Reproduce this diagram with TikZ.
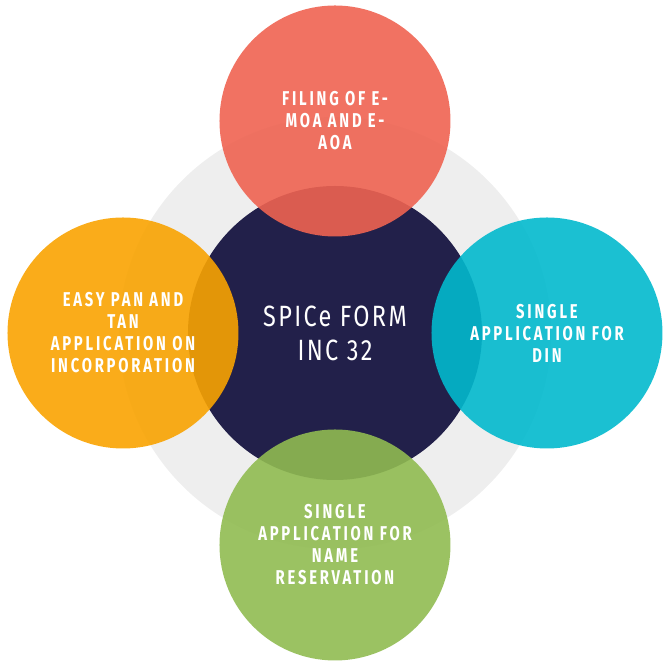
\documentclass[tikz,border=0pt]{standalone}
\usepackage{fontspec}
\newfontfamily\labelfont{Fira Sans}[FakeStretch=0.8,LetterSpace=8]
\newfontfamily\petalfont{Fira Sans}[FakeStretch=0.74,LetterSpace=14]
\usetikzlibrary{math}
\usetikzlibrary{positioning}

\definecolor{ringgray}{HTML}{EEEEEE}
\definecolor{corenavy}{HTML}{22204A}
\definecolor{petalred}{RGB}{239,99,81}
\definecolor{petalcyan}{RGB}{2,185,205}
\definecolor{petalorange}{RGB}{249,163,1}
\definecolor{petalgreen}{RGB}{144,187,81}

\begin{document}
\begin{tikzpicture}[x=0.75pt,y=0.75pt]

\tikzmath{
	\D = 212;
}

\tikzset{petal/.style={
    circle,
    fill=#1,
    fill opacity=0.9,
    text opacity=1,
    text=white,
    minimum size=173.25pt,
    inner sep=0pt,
    align=center,
    font=\petalfont\bfseries\fontsize{15}{16.5}\selectfont
  },
  core/.style={
    circle,
    fill=corenavy,
    text=white,
    minimum size=220.5pt,
    inner sep=0pt,
    align=center,
    font=\labelfont\fontsize{22}{25.5}\selectfont
  },
  ring/.style={
    circle,
    fill=ringgray,
    minimum size=324pt,
    inner sep=0pt
  }
}

\useasboundingbox (-335,-333) rectangle (334,333);

\node[ring] (ring) at (0,0) {};
\node[core] (core) at (0,0) {SPICe FORM\\INC 32};

\node[petal=petalred] (filing) at (0,\D) {FILING OF E-\\MOA AND E-\\AOA};
\node[petal=petalorange] (pantan) at (-\D,0) {EASY PAN AND\\TAN\\APPLICATION ON\\INCORPORATION};
\node[petal=petalcyan] (din) at (\D,0) {SINGLE\\APPLICATION FOR\\DIN};
\node[petal=petalgreen] (name) at (0,-\D) {SINGLE\\APPLICATION FOR\\NAME\\RESERVATION};

\end{tikzpicture}
\end{document}
